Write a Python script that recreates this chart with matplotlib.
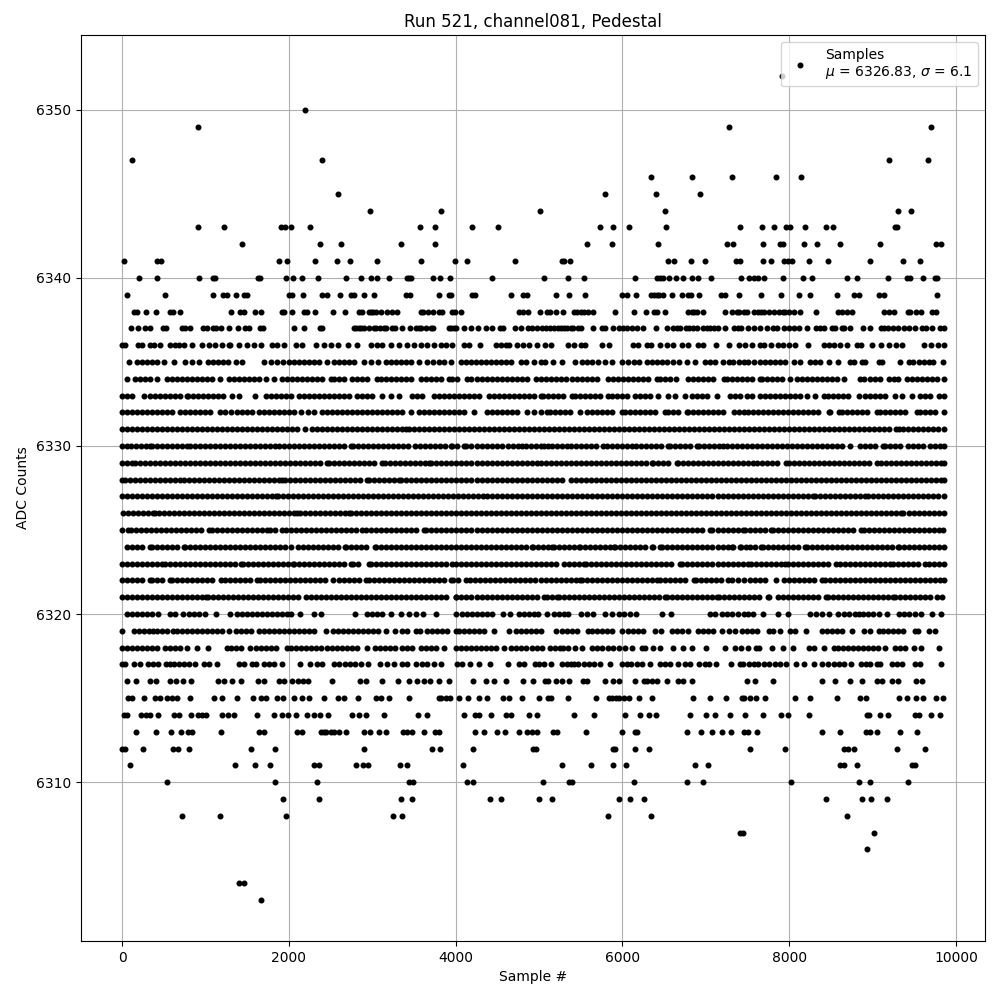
import matplotlib
matplotlib.use("Agg")
import matplotlib.pyplot as plt

title = "Run 521, channel081, Pedestal"
legend_label = "Samples\n$\\mu$ = 6326.83, $\\sigma$ = 6.1"

a6352 = [7915]
a6350 = [2192]
a6349 = [908, 7272, 9696]
a6347 = [116, 2396, 9192, 9660]
a6346 = [6348, 6840, 7308, 7836, 8136]
a6345 = [2588, 5796, 6408, 6936]
a6344 = [2972, 3824, 5016, 6516, 9300, 9456]
a6343 = [908, 1220, 1900, 1952, 2024, 2252, 3572, 3752, 4196, 4508, 5736, 5892, 6084, 6528, 7404, 7668, 7812, 7956, 8004, 8184, 8436, 8520, 9264, 9288]
a6342 = [1436, 2372, 2624, 3344, 3752, 5580, 5880, 6432, 7256, 7320, 7680, 7884, 7920, 8172, 8328, 8604, 9084, 9756, 9816]
a6341 = [20, 416, 464, 1880, 1976, 2312, 2576, 2732, 3056, 3584, 3992, 4136, 4712, 5280, 5304, 5376, 6552, 6624, 6828, 6996, 7364, 7404, 7680, 7784, 7932, 7980, 8028, 8232, 8460, 8964, 9360, 9564]
a6340 = [200, 416, 920, 1088, 1112, 1628, 1652, 1964, 2048, 2156, 2348, 2684, 2864, 2984, 3056, 3200, 3416, 3440, 3464, 3728, 3812, 3932, 4436, 5064, 5352, 5544, 6156, 6416, 6452, 6488, 6564, 6648, 6732, 6840, 6912, 7068, 7416, 7512, 7572, 7620, 7692, 7920, 8160, 8268, 8688, 8808, 9180, 9408, 9444, 9600, 9744, 9768]
a6339 = [56, 512, 1088, 1208, 1256, 1364, 1460, 1496, 2000, 2036, 2168, 2396, 2460, 2612, 2744, 2780, 2900, 3020, 3404, 3452, 3800, 3920, 3944, 4196, 4232, 4664, 4808, 4856, 5208, 5364, 5556, 6000, 6060, 6168, 6348, 6380, 6410, 6440, 6492, 6600, 6720, 6792, 6828, 6924, 7176, 7228, 7392, 7656, 7896, 8112, 8244, 8568, 8772, 8832, 9072, 9132, 9768]
a6338 = [140, 176, 284, 404, 572, 608, 692, 1304, 1412, 1460, 1592, 1664, 1916, 1940, 2036, 2180, 2216, 2312, 2528, 2672, 2840, 2876, 2960, 2990, 3010, 3040, 3100, 3176, 3236, 3296, 3584, 3608, 3668, 3728, 3800, 3836, 3956, 3992, 4064, 4760, 4812, 4872, 5016, 5100, 5136, 5208, 5292, 5424, 5460, 5500, 5540, 5590, 5652, 5916, 6144, 6280, 6384, 6420, 6516, 6792, 6830, 6860, 6900, 6964, 7224, 7308, 7370, 7400, 7452, 7492, 7580, 7620, 7660, 7700, 7760, 7812, 7872, 7920, 7950, 7992, 8052, 8124, 8316, 8580, 8628, 8688, 8748, 9132, 9192, 9252, 9420, 9444, 9516, 9576, 9708, 9756]
a6337 = [104, 188, 272, 332, 488, 524, 716, 752, 812, 968, 1020, 1088, 1124, 1184, 1280, 1388, 1472, 1520, 1652, 1688, 2060, 2180, 2372, 2396, 2780, 2810, 2840, 2870, 2900, 2960, 3020, 3050, 3090, 3140, 3170, 3240, 3272, 3356, 3452, 3524, 3560, 3590, 3640, 3704, 3728, 3920, 3950, 3980, 4010, 4100, 4184, 4268, 4364, 4436, 4532, 4568, 4712, 4784, 4872, 4920, 4980, 5040, 5080, 5130, 5180, 5225, 5260, 5300, 5340, 5380, 5412, 5470, 5500, 5652, 5760, 5796, 5892, 5964, 6012, 6060, 6120, 6180, 6252, 6408, 6540, 6612, 6660, 6692, 6768, 6800, 6850, 6892, 6972, 7010, 7050, 7100, 7150, 7224, 7332, 7380, 7420, 7500, 7572, 7644, 7728, 7804, 7852, 7932, 8000, 8052, 8112, 8208, 8316, 8370, 8412, 8508, 8544, 8628, 8660, 8724, 8880, 8964, 9096, 9140, 9190, 9240, 9300, 9372, 9432, 9504, 9588, 9640, 9708, 9804, 9852]
a6336 = [0, 40, 192, 240, 340, 380, 460, 580, 640, 680, 740, 840, 960, 1040, 1120, 1200, 1280, 1300, 1400, 1500, 1580, 1660, 1800, 1860, 1940, 2080, 2160, 2320, 2420, 2500, 2588, 2708, 2820, 2980, 3060, 3120, 3220, 3320, 3420, 3500, 3580, 3660, 3740, 3820, 3880, 3960, 4100, 4160, 4288, 4480, 4540, 4600, 4640, 4740, 4810, 4880, 4980, 5072, 5140, 5352, 5420, 5500, 5552, 5752, 5840, 6132, 6192, 6292, 6340, 6452, 6530, 6610, 6712, 6792, 6912, 6972, 7124, 7272, 7392, 7470, 7550, 7652, 7692, 7780, 7860, 7930, 7992, 8072, 8220, 8412, 8480, 8532, 8612, 8692, 8812, 8864, 8992, 9100, 9200, 9280, 9352, 9612, 9700, 9780, 9852]
a6335 = [80, 180, 240, 300, 360, 420, 500, 620, 760, 840, 920, 1028, 1090, 1150, 1210, 1270, 1360, 1440, 1700, 1780, 1860, 1932, 2000, 2060, 2120, 2180, 2240, 2300, 2360, 2460, 2540, 2600, 2660, 2720, 2780, 2900, 2980, 3070, 3160, 3220, 3280, 3340, 3400, 3460, 3560, 3660, 3730, 3800, 3860, 3940, 4060, 4120, 4180, 4240, 4300, 4360, 4420, 4480, 4540, 4600, 4660, 4780, 4840, 4940, 5020, 5072, 5172, 5272, 5432, 5512, 5572, 5632, 5712, 5790, 5872, 5992, 6072, 6140, 6204, 6292, 6352, 6412, 6470, 6530, 6612, 6684, 6772, 6872, 6992, 7050, 7112, 7204, 7272, 7330, 7392, 7452, 7510, 7572, 7652, 7710, 7770, 7830, 7890, 7950, 8052, 8132, 8252, 8310, 8370, 8472, 8580, 8724, 8772, 8872, 8912, 9072, 9110, 9324, 9432, 9490, 9560, 9620, 9672, 9724, 9844]
a6334 = [60, 160, 220, 280, 340, 420, 540, 600, 660, 720, 780, 840, 900, 960, 1020, 1080, 1180, 1280, 1340, 1400, 1460, 1520, 1580, 1640, 1720, 1820, 1920, 1980, 2040, 2100, 2160, 2220, 2280, 2340, 2400, 2500, 2540, 2600, 2660, 2760, 2820, 2880, 2940, 3060, 3100, 3160, 3220, 3280, 3340, 3400, 3460, 3580, 3640, 3700, 3760, 3820, 3920, 3960, 4020, 4140, 4188, 4250, 4310, 4370, 4430, 4490, 4550, 4610, 4670, 4730, 4790, 4860, 4960, 5020, 5080, 5140, 5200, 5260, 5320, 5392, 5452, 5510, 5570, 5630, 5692, 5832, 5890, 5950, 6010, 6070, 6130, 6190, 6250, 6310, 6412, 6452, 6510, 6570, 6640, 6792, 6850, 6910, 6970, 7030, 7090, 7212, 7252, 7310, 7370, 7430, 7490, 7550, 7652, 7672, 7730, 7790, 7850, 7910, 8012, 8092, 8150, 8210, 8270, 8330, 8390, 8450, 8510, 8570, 8652, 8852, 8892, 8972, 9030, 9090, 9192, 9252, 9310, 9412, 9472, 9530, 9590, 9650, 9710, 9770, 9855]
a6333 = [0, 60, 120, 260, 340, 400, 460, 520, 580, 640, 700, 780, 788, 850, 910, 970, 1030, 1090, 1150, 1210, 1320, 1400, 1592, 1720, 1780, 1840, 1900, 1960, 2020, 2120, 2180, 2240, 2300, 2360, 2420, 2480, 2540, 2600, 2660, 2720, 2820, 2880, 2940, 3000, 3120, 3220, 3320, 3480, 3540, 3600, 3740, 3800, 3860, 3920, 3980, 4040, 4100, 4160, 4220, 4280, 4400, 4460, 4520, 4580, 4640, 4700, 4760, 4820, 4880, 4940, 5020, 5052, 5110, 5170, 5230, 5290, 5392, 5432, 5490, 5550, 5610, 5670, 5730, 5832, 5872, 5930, 5990, 6050, 6152, 6212, 6270, 6330, 6432, 6552, 6632, 6752, 6832, 6890, 6950, 7010, 7132, 7292, 7350, 7410, 7492, 7552, 7652, 7710, 7770, 7830, 7890, 7950, 8010, 8070, 8130, 8212, 8312, 8412, 8470, 8530, 8590, 8650, 8710, 8832, 8912, 8970, 9030, 9090, 9150, 9272, 9352, 9472, 9572, 9630, 9690, 9792, 9852]
a6332 = [0, 60, 120, 180, 240, 300, 360, 420, 480, 540, 600, 700, 760, 820, 880, 940, 1000, 1060, 1180, 1240, 1310, 1380, 1440, 1500, 1560, 1640, 1700, 1760, 1820, 1880, 1940, 2000, 2060, 2140, 2228, 2300, 2400, 2460, 2520, 2580, 2640, 2700, 2760, 2820, 2880, 2940, 3000, 3060, 3120, 3180, 3240, 3300, 3360, 3460, 3560, 3620, 3680, 3740, 3800, 3860, 3920, 3980, 4040, 4100, 4220, 4380, 4440, 4500, 4560, 4620, 4680, 4740, 4860, 4940, 5020, 5092, 5132, 5190, 5250, 5310, 5370, 5492, 5572, 5630, 5690, 5750, 5810, 5870, 5992, 6032, 6090, 6150, 6210, 6270, 6330, 6390, 6512, 6552, 6610, 6670, 6772, 6792, 6850, 6910, 6970, 7030, 7090, 7150, 7210, 7332, 7392, 7452, 7510, 7570, 7630, 7690, 7750, 7810, 7870, 7930, 7990, 8050, 8110, 8170, 8230, 8290, 8350, 8472, 8492, 8592, 8632, 8690, 8750, 8810, 8870, 8930, 9052, 9092, 9150, 9210, 9270, 9330, 9390, 9532, 9572, 9630, 9690, 9750, 9855]
a6331 = [0, 60, 120, 180, 240, 300, 360, 420, 480, 540, 600, 660, 720, 780, 840, 900, 960, 1020, 1080, 1140, 1200, 1260, 1320, 1380, 1440, 1500, 1560, 1620, 1680, 1740, 1800, 1860, 1920, 1980, 2040, 2100, 2190, 2280, 2340, 2400, 2460, 2520, 2580, 2640, 2700, 2760, 2820, 2880, 2940, 3000, 3060, 3120, 3180, 3240, 3300, 3360, 3400, 3440, 3500, 3560, 3620, 3680, 3740, 3800, 3860, 3920, 3980, 4040, 4100, 4160, 4220, 4280, 4340, 4400, 4460, 4520, 4580, 4640, 4700, 4760, 4820, 4880, 4940, 5000, 5060, 5120, 5180, 5240, 5300, 5360, 5420, 5480, 5540, 5600, 5660, 5720, 5780, 5840, 5900, 5960, 6020, 6080, 6140, 6200, 6260, 6320, 6380, 6440, 6500, 6560, 6620, 6680, 6740, 6800, 6860, 6920, 6980, 7040, 7100, 7160, 7220, 7280, 7340, 7400, 7460, 7520, 7580, 7640, 7700, 7760, 7820, 7880, 7940, 8000, 8060, 8120, 8180, 8240, 8300, 8360, 8420, 8480, 8540, 8600, 8660, 8720, 8780, 8840, 8900, 8960, 9020, 9080, 9140, 9200, 9284, 9312, 9370, 9430, 9490, 9550, 9610, 9670, 9730, 9790, 9852]
a6330 = [0, 55, 110, 170, 230, 290, 330, 360, 420, 480, 540, 600, 660, 720, 780, 820, 870, 930, 990, 1050, 1110, 1170, 1230, 1290, 1350, 1410, 1470, 1530, 1590, 1650, 1710, 1770, 1830, 1880, 1940, 2000, 2060, 2120, 2180, 2240, 2300, 2360, 2420, 2480, 2540, 2600, 2660, 2740, 2770, 2830, 2890, 2950, 3010, 3070, 3130, 3190, 3250, 3310, 3370, 3430, 3510, 3570, 3630, 3690, 3750, 3810, 3870, 3940, 3960, 4020, 4100, 4130, 4180, 4260, 4320, 4380, 4440, 4500, 4560, 4630, 4690, 4750, 4790, 4840, 4900, 4960, 5020, 5060, 5110, 5150, 5210, 5270, 5330, 5380, 5440, 5500, 5560, 5620, 5680, 5770, 5810, 5870, 5930, 5990, 6050, 6120, 6160, 6220, 6280, 6340, 6400, 6460, 6550, 6570, 6630, 6690, 6750, 6810, 6890, 6920, 6980, 7040, 7100, 7160, 7210, 7250, 7310, 7370, 7430, 7490, 7550, 7610, 7670, 7730, 7790, 7850, 7910, 7970, 8030, 8090, 8150, 8210, 8270, 8330, 8390, 8450, 8510, 8570, 8630, 8730, 8850, 8910, 8970, 9030, 9120, 9150, 9210, 9270, 9330, 9430, 9480, 9540, 9600, 9690, 9750, 9810, 9855]
a6329 = [0, 60, 120, 160, 210, 270, 330, 390, 450, 510, 570, 630, 690, 750, 810, 870, 930, 990, 1050, 1110, 1170, 1230, 1290, 1350, 1410, 1470, 1530, 1590, 1650, 1710, 1770, 1830, 1890, 1950, 2010, 2070, 2130, 2190, 2250, 2310, 2370, 2460, 2480, 2540, 2600, 2660, 2720, 2780, 2840, 2900, 2960, 3020, 3120, 3150, 3210, 3270, 3330, 3390, 3450, 3510, 3570, 3630, 3680, 3710, 3770, 3830, 3890, 3950, 4010, 4070, 4130, 4190, 4250, 4310, 4370, 4430, 4490, 4550, 4610, 4670, 4730, 4790, 4850, 4910, 4970, 5020, 5080, 5140, 5200, 5260, 5320, 5380, 5440, 5500, 5560, 5620, 5680, 5740, 5800, 5860, 5920, 5980, 6040, 6100, 6160, 6220, 6280, 6350, 6370, 6430, 6490, 6550, 6650, 6670, 6730, 6790, 6850, 6910, 6970, 7030, 7090, 7150, 7210, 7270, 7330, 7390, 7450, 7510, 7570, 7610, 7670, 7730, 7790, 7850, 7960, 8000, 8060, 8120, 8180, 8240, 8300, 8360, 8420, 8480, 8540, 8600, 8660, 8720, 8780, 8840, 8900, 8960, 9050, 9100, 9160, 9220, 9280, 9340, 9400, 9460, 9520, 9580, 9640, 9700, 9760, 9820, 9855]
a6328 = [0, 40, 100, 160, 220, 280, 340, 400, 460, 520, 580, 640, 700, 740, 800, 860, 920, 980, 1040, 1100, 1160, 1220, 1280, 1340, 1400, 1460, 1520, 1580, 1640, 1700, 1760, 1820, 1880, 1920, 1950, 2010, 2070, 2130, 2190, 2250, 2310, 2370, 2430, 2490, 2550, 2610, 2670, 2730, 2790, 2850, 2940, 2960, 3020, 3080, 3140, 3200, 3260, 3320, 3350, 3410, 3470, 3530, 3590, 3650, 3710, 3770, 3830, 3890, 3950, 4010, 4070, 4130, 4190, 4250, 4310, 4370, 4430, 4490, 4550, 4610, 4670, 4730, 4790, 4850, 4910, 4970, 5030, 5090, 5150, 5210, 5270, 5380, 5440, 5500, 5560, 5620, 5680, 5740, 5800, 5860, 5920, 5980, 6040, 6100, 6160, 6220, 6280, 6340, 6400, 6460, 6520, 6580, 6640, 6700, 6760, 6820, 6880, 6940, 7000, 7060, 7120, 7180, 7240, 7300, 7360, 7420, 7480, 7540, 7600, 7660, 7720, 7780, 7840, 7900, 7960, 8020, 8080, 8140, 8200, 8260, 8320, 8380, 8440, 8500, 8560, 8620, 8680, 8740, 8800, 8860, 8920, 8980, 9040, 9100, 9160, 9220, 9280, 9340, 9400, 9460, 9520, 9580, 9640, 9700, 9760, 9820, 9855]
a6327 = [0, 60, 120, 180, 240, 300, 360, 420, 480, 540, 600, 660, 720, 780, 840, 900, 960, 1020, 1080, 1140, 1200, 1260, 1320, 1380, 1440, 1500, 1560, 1620, 1680, 1740, 1800, 1840, 1870, 1930, 1990, 2050, 2110, 2170, 2230, 2290, 2350, 2410, 2470, 2530, 2590, 2650, 2710, 2770, 2830, 2890, 2950, 3010, 3070, 3130, 3190, 3250, 3310, 3370, 3430, 3490, 3550, 3610, 3670, 3730, 3790, 3850, 3910, 3970, 4030, 4090, 4150, 4210, 4270, 4330, 4380, 4440, 4500, 4560, 4620, 4680, 4740, 4800, 4860, 4920, 4980, 5040, 5100, 5160, 5220, 5280, 5340, 5400, 5460, 5520, 5580, 5640, 5700, 5760, 5820, 5880, 5940, 6000, 6060, 6120, 6180, 6240, 6300, 6360, 6420, 6480, 6540, 6600, 6660, 6720, 6780, 6840, 6900, 6960, 7020, 7080, 7140, 7200, 7260, 7320, 7380, 7440, 7500, 7560, 7620, 7680, 7740, 7800, 7860, 7920, 7980, 8040, 8100, 8160, 8220, 8290, 8310, 8370, 8430, 8490, 8550, 8610, 8670, 8730, 8790, 8850, 8910, 8940, 9000, 9060, 9120, 9180, 9240, 9300, 9360, 9420, 9480, 9540, 9600, 9660, 9720, 9780, 9855]
a6326 = [10, 70, 130, 190, 250, 310, 370, 400, 440, 500, 560, 620, 680, 740, 800, 860, 920, 980, 1040, 1100, 1160, 1220, 1280, 1340, 1400, 1460, 1520, 1580, 1640, 1700, 1760, 1820, 1880, 1940, 2000, 2060, 2100, 2130, 2190, 2250, 2310, 2370, 2430, 2490, 2550, 2610, 2670, 2720, 2740, 2800, 2860, 2920, 2980, 3040, 3100, 3160, 3220, 3280, 3340, 3400, 3460, 3520, 3580, 3640, 3700, 3760, 3820, 3880, 3940, 4000, 4060, 4120, 4180, 4240, 4300, 4360, 4420, 4480, 4540, 4600, 4660, 4720, 4780, 4840, 4900, 4960, 5020, 5080, 5140, 5200, 5260, 5320, 5380, 5440, 5500, 5560, 5620, 5680, 5740, 5800, 5860, 5920, 5980, 6040, 6100, 6160, 6220, 6280, 6340, 6400, 6460, 6520, 6580, 6640, 6700, 6760, 6820, 6880, 6940, 7000, 7060, 7120, 7180, 7240, 7300, 7360, 7420, 7480, 7540, 7600, 7660, 7720, 7780, 7840, 7900, 7960, 8020, 8080, 8140, 8200, 8260, 8320, 8380, 8440, 8500, 8560, 8620, 8680, 8740, 8800, 8860, 8920, 8980, 9040, 9100, 9160, 9220, 9280, 9340, 9370, 9440, 9500, 9560, 9620, 9680, 9740, 9800, 9855]
a6325 = [0, 70, 110, 170, 230, 290, 350, 410, 470, 530, 590, 650, 710, 770, 830, 890, 950, 1040, 1080, 1140, 1200, 1260, 1320, 1380, 1440, 1500, 1560, 1620, 1680, 1740, 1770, 1830, 1920, 1970, 2030, 2090, 2150, 2210, 2270, 2330, 2390, 2450, 2510, 2570, 2630, 2690, 2750, 2810, 2880, 2930, 2990, 3050, 3110, 3170, 3230, 3290, 3350, 3410, 3470, 3530, 3620, 3650, 3710, 3770, 3830, 3890, 3950, 4010, 4070, 4130, 4190, 4250, 4310, 4370, 4430, 4490, 4550, 4610, 4670, 4730, 4790, 4850, 4910, 4970, 5030, 5090, 5150, 5210, 5270, 5330, 5390, 5450, 5510, 5570, 5630, 5690, 5750, 5810, 5870, 5930, 5990, 6050, 6110, 6170, 6230, 6290, 6350, 6410, 6470, 6530, 6590, 6650, 6710, 6770, 6830, 6890, 6950, 7050, 7080, 7140, 7200, 7260, 7320, 7380, 7450, 7470, 7530, 7590, 7650, 7710, 7780, 7800, 7860, 7920, 7980, 8040, 8100, 8160, 8220, 8280, 8340, 8400, 8460, 8520, 8580, 8640, 8700, 8760, 8860, 8900, 8960, 9020, 9080, 9140, 9200, 9260, 9320, 9380, 9440, 9500, 9560, 9620, 9680, 9740, 9800, 9840]
a6324 = [60, 120, 180, 240, 330, 360, 420, 480, 540, 600, 660, 740, 750, 810, 870, 930, 990, 1050, 1110, 1170, 1230, 1290, 1350, 1410, 1470, 1530, 1590, 1650, 1710, 1770, 1830, 1890, 1950, 2030, 2110, 2170, 2230, 2290, 2350, 2410, 2470, 2530, 2590, 2670, 2690, 2750, 2810, 2870, 2930, 3030, 3040, 3100, 3160, 3220, 3280, 3340, 3400, 3460, 3530, 3580, 3640, 3700, 3760, 3820, 3880, 3940, 4000, 4060, 4120, 4180, 4240, 4300, 4360, 4420, 4480, 4540, 4600, 4660, 4720, 4780, 4840, 4920, 4930, 4990, 5050, 5110, 5150, 5180, 5240, 5300, 5360, 5420, 5480, 5490, 5550, 5610, 5670, 5730, 5790, 5850, 5900, 5910, 5970, 6030, 6090, 6150, 6210, 6270, 6350, 6370, 6450, 6480, 6540, 6600, 6660, 6720, 6780, 6840, 6900, 6960, 7020, 7080, 7140, 7200, 7260, 7310, 7330, 7410, 7420, 7480, 7530, 7590, 7660, 7690, 7750, 7810, 7870, 7930, 7990, 8050, 8110, 8190, 8210, 8270, 8330, 8390, 8450, 8510, 8570, 8630, 8690, 8750, 8810, 8870, 8930, 8990, 9050, 9110, 9170, 9230, 9310, 9320, 9380, 9440, 9500, 9560, 9620, 9680, 9740, 9800, 9855]
a6323 = [0, 60, 120, 180, 240, 300, 360, 420, 480, 510, 570, 630, 690, 750, 810, 870, 930, 990, 1050, 1110, 1170, 1230, 1290, 1350, 1420, 1450, 1510, 1570, 1630, 1690, 1750, 1810, 1870, 1930, 1990, 2050, 2060, 2120, 2180, 2240, 2300, 2360, 2420, 2480, 2540, 2600, 2660, 2750, 2770, 2830, 2960, 2990, 3050, 3110, 3170, 3230, 3290, 3350, 3410, 3470, 3530, 3590, 3650, 3710, 3770, 3830, 3890, 3960, 4000, 4060, 4120, 4180, 4240, 4300, 4360, 4420, 4480, 4540, 4600, 4660, 4720, 4780, 4840, 4900, 4960, 5020, 5080, 5140, 5200, 5300, 5360, 5420, 5480, 5540, 5560, 5620, 5680, 5740, 5800, 5860, 5920, 5980, 6040, 6100, 6160, 6220, 6280, 6340, 6400, 6460, 6520, 6580, 6690, 6720, 6780, 6840, 6900, 6960, 7020, 7080, 7140, 7200, 7260, 7320, 7380, 7440, 7510, 7540, 7600, 7660, 7720, 7780, 7840, 7900, 7950, 7980, 8040, 8100, 8160, 8220, 8280, 8340, 8400, 8460, 8560, 8610, 8670, 8730, 8790, 8850, 8910, 8970, 9030, 9090, 9150, 9210, 9240, 9300, 9360, 9420, 9480, 9540, 9630, 9680, 9740, 9800, 9855]
a6322 = [0, 60, 120, 180, 240, 340, 360, 420, 480, 580, 600, 660, 720, 780, 840, 900, 960, 1020, 1080, 1190, 1230, 1290, 1350, 1410, 1470, 1530, 1620, 1650, 1710, 1770, 1830, 1890, 1950, 2010, 2070, 2130, 2190, 2250, 2310, 2370, 2430, 2530, 2600, 2660, 2720, 2780, 2840, 2920, 2960, 3020, 3080, 3140, 3200, 3260, 3320, 3380, 3440, 3500, 3560, 3620, 3680, 3740, 3800, 3860, 3940, 3970, 4030, 4120, 4170, 4230, 4290, 4350, 4410, 4470, 4530, 4590, 4650, 4710, 4770, 4830, 4890, 4950, 5020, 5080, 5140, 5200, 5260, 5320, 5380, 5440, 5490, 5510, 5570, 5630, 5690, 5750, 5810, 5870, 5930, 5990, 6050, 6110, 6170, 6230, 6290, 6350, 6410, 6450, 6510, 6570, 6630, 6690, 6750, 6860, 6880, 6940, 7000, 7060, 7120, 7180, 7260, 7310, 7380, 7460, 7530, 7590, 7650, 7710, 7840, 7940, 8000, 8060, 8120, 8180, 8240, 8300, 8390, 8430, 8490, 8550, 8610, 8670, 8730, 8790, 8850, 8910, 8970, 9030, 9090, 9150, 9210, 9270, 9330, 9390, 9450, 9510, 9570, 9630, 9690, 9750, 9810, 9855]
a6321 = [0, 60, 120, 180, 240, 300, 360, 420, 480, 540, 600, 660, 720, 780, 840, 900, 960, 1010, 1030, 1090, 1150, 1210, 1270, 1330, 1390, 1450, 1510, 1570, 1630, 1690, 1750, 1810, 1870, 1930, 1990, 2050, 2110, 2210, 2260, 2320, 2380, 2440, 2500, 2560, 2620, 2680, 2740, 2800, 2860, 2920, 2980, 3040, 3100, 3160, 3220, 3280, 3340, 3400, 3460, 3520, 3580, 3640, 3700, 3760, 3820, 3880, 4000, 4010, 4070, 4130, 4190, 4250, 4310, 4370, 4430, 4490, 4550, 4610, 4670, 4730, 4790, 4850, 4910, 4970, 5060, 5100, 5160, 5210, 5240, 5300, 5360, 5420, 5480, 5540, 5600, 5660, 5720, 5780, 5840, 5900, 5960, 6020, 6080, 6140, 6200, 6260, 6320, 6380, 6440, 6510, 6540, 6600, 6660, 6720, 6780, 6840, 6900, 6960, 7020, 7080, 7130, 7160, 7220, 7280, 7340, 7400, 7460, 7520, 7580, 7640, 7740, 7760, 7860, 7920, 7980, 8040, 8100, 8160, 8220, 8280, 8340, 8440, 8460, 8520, 8580, 8640, 8700, 8760, 8820, 8880, 8940, 9000, 9060, 9120, 9180, 9250, 9270, 9330, 9390, 9450, 9510, 9570, 9630, 9690, 9770, 9830]
a6320 = [60, 120, 180, 240, 300, 360, 430, 580, 640, 730, 800, 860, 920, 990, 1130, 1300, 1380, 1440, 1500, 1560, 1620, 1680, 1740, 1800, 1860, 1920, 1980, 2030, 2130, 2300, 2380, 2790, 2940, 3000, 3060, 3120, 3220, 3350, 3440, 3520, 3610, 3770, 4000, 4080, 4140, 4200, 4260, 4320, 4380, 4440, 4570, 4650, 4760, 4820, 4880, 4940, 4990, 5090, 5180, 5240, 5300, 5350, 5500, 5570, 5650, 5790, 5870, 5960, 6020, 6090, 6160, 6480, 6580, 7050, 7110, 7190, 7250, 7310, 7380, 7460, 7510, 7560, 7680, 7870, 7980, 8250, 8320, 8390, 8480, 8580, 8660, 8720, 8790, 8840, 8890, 8950, 9010, 9080, 9170, 9320, 9380, 9440, 9510, 9580, 9710, 9820]
a6319 = [0, 140, 200, 260, 320, 370, 420, 480, 540, 612, 660, 720, 780, 840, 900, 960, 1020, 1080, 1140, 1200, 1280, 1360, 1420, 1480, 1540, 1640, 1700, 1760, 1820, 1880, 1940, 2000, 2060, 2120, 2180, 2240, 2300, 2448, 2528, 2590, 2650, 2710, 2770, 2830, 2890, 2950, 3010, 3070, 3160, 3272, 3360, 3420, 3520, 3572, 3660, 3720, 3780, 3840, 3900, 4000, 4040, 4100, 4160, 4220, 4280, 4340, 4460, 4640, 4720, 4780, 4840, 4900, 4960, 5020, 5204, 5270, 5330, 5390, 5450, 5592, 5632, 5690, 5750, 5810, 5870, 5992, 6072, 6130, 6190, 6250, 6392, 6468, 6592, 6650, 6710, 6792, 6912, 6970, 7030, 7090, 7192, 7272, 7352, 7432, 7490, 7550, 7612, 7752, 7810, 7892, 8012, 8072, 8200, 8392, 8450, 8510, 8570, 8630, 8752, 8892, 8972, 9072, 9130, 9190, 9250, 9310, 9370, 9512, 9540, 9672, 9752]
a6318 = [0, 60, 120, 180, 240, 300, 360, 420, 520, 580, 640, 700, 780, 900, 1028, 1256, 1308, 1370, 1430, 1532, 1600, 1660, 1720, 1780, 1840, 1980, 2020, 2080, 2140, 2200, 2260, 2320, 2380, 2460, 2520, 2580, 2640, 2700, 2760, 2820, 2940, 3028, 3090, 3150, 3210, 3270, 3360, 3420, 3480, 3580, 3640, 3700, 3760, 3860, 4000, 4060, 4120, 4180, 4240, 4300, 4360, 4420, 4480, 4580, 4660, 4720, 4780, 4840, 4920, 4980, 5040, 5132, 5192, 5252, 5292, 5350, 5432, 5520, 5632, 5690, 5750, 5832, 5892, 5960, 6032, 6120, 6232, 6272, 6372, 6452, 6612, 6732, 6840, 7004, 7232, 7352, 7420, 7510, 7600, 7632, 7792, 7920, 8040, 8232, 8300, 8412, 8532, 8590, 8650, 8710, 8770, 8830, 8890, 8950, 9010, 9070, 9152, 9272, 9330, 9390, 9492, 9584, 9792]
a6317 = [0, 40, 140, 220, 308, 368, 428, 524, 570, 620, 680, 740, 800, 880, 980, 1040, 1136, 1400, 1460, 1560, 1604, 1700, 1760, 1820, 1920, 2132, 2252, 2340, 2400, 2540, 2600, 2672, 2732, 2790, 2860, 2952, 3092, 3180, 3260, 3360, 3412, 3520, 3600, 3660, 3740, 3824, 4020, 4080, 4172, 4280, 4412, 4628, 4760, 4820, 4952, 5000, 5060, 5148, 5280, 5330, 5380, 5420, 5468, 5540, 5600, 5660, 5732, 5852, 6000, 6060, 6100, 6180, 6240, 6336, 6456, 6510, 6570, 6672, 6756, 6816, 6924, 6990, 7044, 7124, 7296, 7404, 7450, 7512, 7572, 7630, 7700, 7760, 7832, 7890, 7964, 8076, 8172, 8292, 8388, 8460, 8532, 8592, 8652, 8736, 8864, 8920, 8972, 9052, 9092, 9232, 9292, 9348, 9504, 9564, 9816]
a6316 = [60, 168, 340, 412, 572, 652, 728, 824, 1148, 1220, 1316, 1428, 1632, 1700, 1880, 1940, 2036, 2108, 2168, 2228, 2516, 2852, 2924, 3116, 3308, 3440, 3540, 3620, 3692, 3800, 3920, 4208, 4364, 4460, 4604, 4808, 4932, 5076, 5112, 5208, 5280, 5364, 5532, 5580, 5796, 5892, 5964, 6156, 6264, 6300, 6350, 6420, 6540, 6672, 6732, 6840, 7488, 7584, 7800, 8388, 8548, 8724, 8868, 9048, 9108, 9228, 9300, 9516, 9588]
a6315 = [68, 120, 260, 392, 452, 540, 600, 656, 816, 1100, 1196, 1376, 1568, 1660, 1724, 1856, 1928, 2060, 2156, 2240, 2420, 2588, 2660, 2828, 3044, 3104, 3200, 3440, 3800, 3830, 3880, 3932, 4040, 4148, 4280, 4380, 4568, 4640, 4796, 5000, 5112, 5148, 5352, 5688, 5844, 5880, 5920, 5960, 6020, 6084, 6204, 6360, 6852, 7056, 7236, 7428, 7452, 7524, 7596, 7704, 8064, 8244, 8568, 8844, 8916, 9312, 9408, 9516, 9600, 9756, 9840]
a6314 = [28, 60, 224, 284, 340, 428, 620, 680, 828, 908, 960, 1012, 1196, 1268, 1340, 1620, 1820, 1916, 1988, 2088, 2212, 2300, 2372, 2468, 2756, 2840, 2920, 3140, 3548, 3656, 4100, 4232, 4280, 4424, 4604, 4664, 4880, 4980, 5424, 5664, 6036, 6216, 6324, 6408, 6816, 7008, 7104, 7284, 7464, 7680, 7896, 7980, 8232, 8928, 8952, 9084, 9180, 9504, 9552, 9696, 9804]
a6313 = [164, 412, 588, 704, 788, 836, 1184, 1640, 1700, 2100, 2156, 2384, 2420, 2450, 2500, 2540, 2600, 2684, 2900, 2972, 3080, 3164, 3368, 3420, 3472, 3620, 3752, 3800, 4232, 4340, 4496, 4592, 4760, 4860, 4920, 4980, 5172, 5220, 5568, 6000, 6156, 6180, 6780, 6948, 7080, 7192, 7296, 7452, 7500, 7608, 8388, 8604, 8916, 8964, 9048, 9324, 9528]
a6312 = [0, 36, 252, 608, 668, 800, 1544, 1832, 2900, 3716, 3812, 4208, 4928, 4964, 5892, 5916, 6156, 6324, 7524, 7944, 8652, 8700, 8772, 9288, 9624]
a6311 = [92, 1352, 1592, 1772, 2300, 2360, 2804, 2888, 2948, 3332, 3416, 4088, 5280, 5628, 5892, 6048, 6876, 7032, 8604, 8652, 8808, 9468, 9504]
a6310 = [536, 1832, 2336, 3440, 3488, 4136, 4208, 5052, 5364, 5400, 6144, 6780, 6972, 8016, 8832, 8964, 9420]
a6309 = [1928, 2360, 3344, 3476, 4412, 4544, 5004, 5160, 5964, 6096, 6264, 8436, 8868, 8976, 9168]
a6308 = [716, 1172, 1964, 3248, 3356, 5832, 6348, 8688]
a6307 = [7412, 7440, 9012]
a6306 = [8928]
a6304 = [1400, 1460]
a6303 = [1664]

levels = [6303, 6304, 6306, 6307, 6308, 6309, 6310, 6311, 6312, 6313, 6314, 6315, 6316, 6317, 6318, 6319, 6320,
          6321, 6322, 6323, 6324, 6325, 6326, 6327, 6328, 6329, 6330, 6331, 6332, 6333, 6334, 6335, 6336, 6337,
          6338, 6339, 6340, 6341, 6342, 6343, 6344, 6345, 6346, 6347, 6349, 6350, 6352]
rows = [a6303, a6304, a6306, a6307, a6308, a6309, a6310, a6311, a6312, a6313, a6314, a6315, a6316, a6317, a6318, a6319, a6320,
        a6321, a6322, a6323, a6324, a6325, a6326, a6327, a6328, a6329, a6330, a6331, a6332, a6333, a6334, a6335, a6336, a6337,
        a6338, a6339, a6340, a6341, a6342, a6343, a6344, a6345, a6346, a6347, a6349, a6350, a6352]

xs, ys = [], []
for level, row in zip(levels, rows):
    xs.extend(row)
    ys.extend([level] * len(row))

fig, ax = plt.subplots(figsize=(10, 10), dpi=100)
ax.plot(xs, ys, "k.", ms=6.6, label=legend_label)
ax.set_title(title)
ax.set_xlabel("Sample #")
ax.set_ylabel("ADC Counts")
ax.ticklabel_format(useOffset=False, style="plain")
ax.grid(True)
ax.legend(loc="upper right")
fig.subplots_adjust(left=0.081, right=0.985, top=0.965, bottom=0.059)
fig.savefig("out.png", dpi=100)
